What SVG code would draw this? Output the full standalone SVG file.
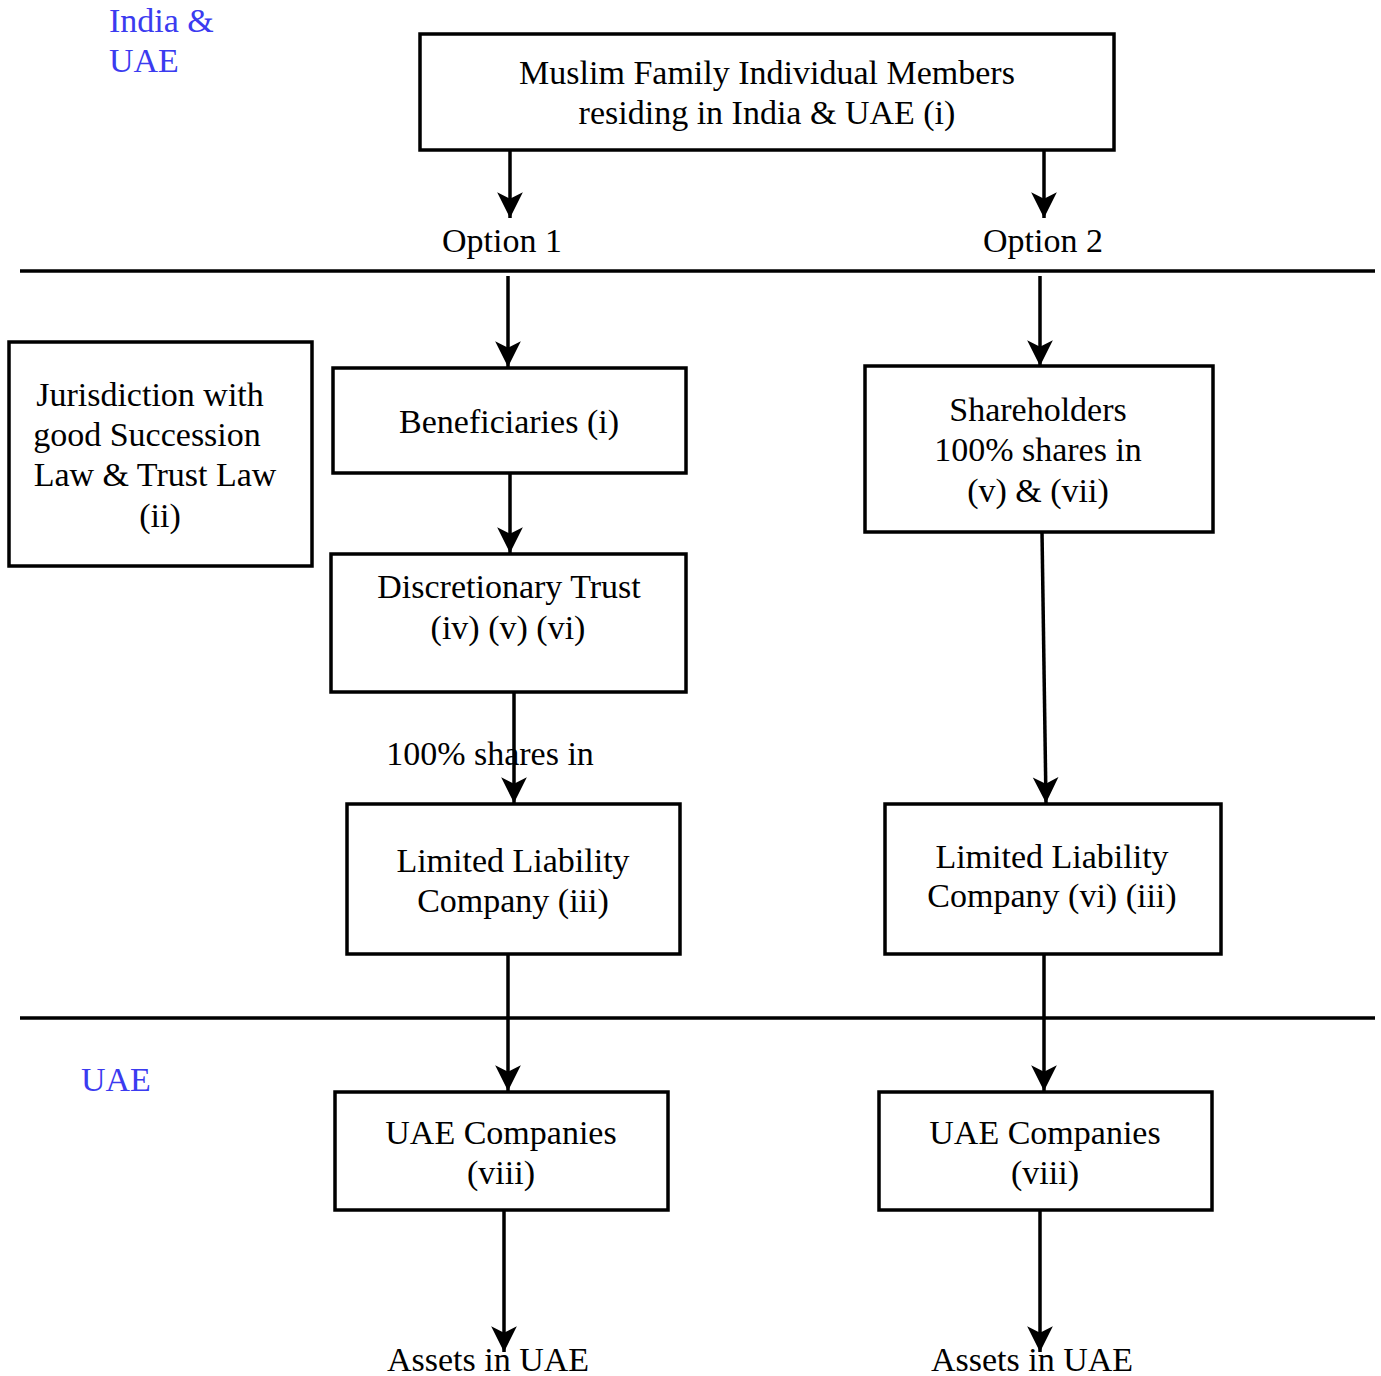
<svg xmlns="http://www.w3.org/2000/svg" width="1381" height="1376" viewBox="0 0 1381 1376">
<defs>
<marker id="ah" markerUnits="userSpaceOnUse" markerWidth="30" markerHeight="30" viewBox="0 0 24 28" refX="24" refY="14" orient="auto">
<path d="M0,2 L24,14 L0,26 L6,14 Z" fill="#000"/>
</marker>
<style>
.box{fill:#fff;stroke:#000;stroke-width:3.5}
.t{font-family:"Liberation Serif","Times New Roman",serif;font-size:34px;fill:#000;text-anchor:middle}
.b{font-family:"Liberation Serif","Times New Roman",serif;font-size:34px;fill:#3b3bf0}
.c{stroke:#000;stroke-width:3.5;fill:none;marker-end:url(#ah)}
.ln{stroke:#000;stroke-width:3.5}
</style>
</defs>
<rect width="1381" height="1376" fill="#fff"/>
<g id="labels">
<text class="b" x="109" y="32">India &amp;</text>
<text class="b" x="109" y="72">UAE</text>
<text class="b" x="81" y="1091">UAE</text>
<text class="t" x="502" y="252">Option 1</text>
<text class="t" x="1043" y="252">Option 2</text>
<text class="t" x="490" y="765">100% shares in</text>
<text class="t" x="488" y="1371">Assets in UAE</text>
<text class="t" x="1032" y="1371">Assets in UAE</text>
</g>
<g id="dividers">
<line class="ln" x1="20" y1="271" x2="1375" y2="271"/>
<line class="ln" x1="20" y1="1018" x2="1375" y2="1018"/>
</g>
<g id="connectors">
<line class="c" x1="510" y1="150" x2="510" y2="218"/>
<line class="c" x1="1044" y1="150" x2="1044" y2="218"/>
<line class="c" x1="508" y1="276" x2="508" y2="367"/>
<line class="c" x1="1040" y1="276" x2="1040" y2="366"/>
<line class="c" x1="510" y1="473" x2="510" y2="553"/>
<line class="c" x1="514" y1="692" x2="514" y2="803"/>
<line class="c" x1="1042" y1="532" x2="1046" y2="803"/>
<line class="c" x1="508" y1="952" x2="508" y2="1091"/>
<line class="c" x1="1044" y1="952" x2="1044" y2="1091"/>
<line class="c" x1="504" y1="1210" x2="504" y2="1352"/>
<line class="c" x1="1040" y1="1210" x2="1040" y2="1352"/>
</g>
<g id="n-top">
<rect class="box" x="420" y="34" width="694" height="116"/>
<text class="t" x="767" y="84">Muslim Family Individual Members</text>
<text class="t" x="767" y="124">residing in India &amp; UAE (i)</text>
</g>
<g id="n-jurisdiction">
<rect class="box" x="9" y="342" width="303" height="224"/>
<text class="t" x="150" y="406">Jurisdiction with</text>
<text class="t" x="147" y="446">good Succession</text>
<text class="t" x="155" y="486">Law &amp; Trust Law</text>
<text class="t" x="160" y="527">(ii)</text>
</g>
<g id="n-beneficiaries">
<rect class="box" x="333" y="368" width="353" height="105"/>
<text class="t" x="509" y="433">Beneficiaries (i)</text>
</g>
<g id="n-trust">
<rect class="box" x="331" y="554" width="355" height="138"/>
<text class="t" x="509" y="598">Discretionary Trust</text>
<text class="t" x="508" y="639">(iv) (v) (vi)</text>
</g>
<g id="n-llc1">
<rect class="box" x="347" y="804" width="333" height="150"/>
<text class="t" x="513" y="872">Limited Liability</text>
<text class="t" x="513" y="912">Company (iii)</text>
</g>
<g id="n-shareholders">
<rect class="box" x="865" y="366" width="348" height="166"/>
<text class="t" x="1038" y="421">Shareholders</text>
<text class="t" x="1038" y="461">100% shares in</text>
<text class="t" x="1038" y="502">(v) &amp; (vii)</text>
</g>
<g id="n-llc2">
<rect class="box" x="885" y="804" width="336" height="150"/>
<text class="t" x="1052" y="868">Limited Liability</text>
<text class="t" x="1052" y="907">Company (vi) (iii)</text>
</g>
<g id="n-uae1">
<rect class="box" x="335" y="1092" width="333" height="118"/>
<text class="t" x="501" y="1144">UAE Companies</text>
<text class="t" x="501" y="1184">(viii)</text>
</g>
<g id="n-uae2">
<rect class="box" x="879" y="1092" width="333" height="118"/>
<text class="t" x="1045" y="1144">UAE Companies</text>
<text class="t" x="1045" y="1184">(viii)</text>
</g>
</svg>
